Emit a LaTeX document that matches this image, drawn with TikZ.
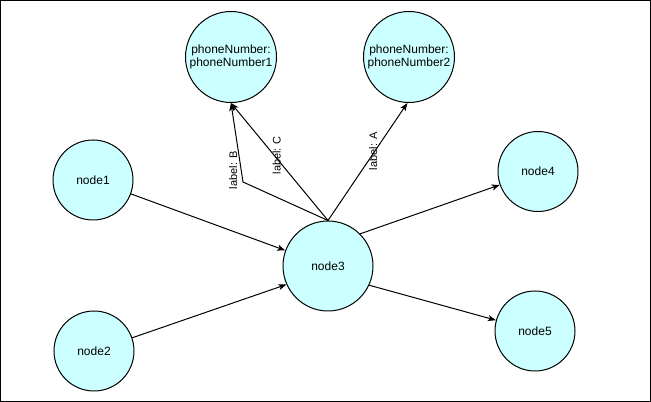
\documentclass[tikz,border=0pt]{standalone}
\usepackage{fontspec}
\setmainfont{Liberation Sans}
\usetikzlibrary{arrows.meta}
\definecolor{nodefill}{HTML}{CCFFFF}
\begin{document}
\begin{tikzpicture}[x=0.75pt,y=-0.75pt,
  circ/.style={circle,draw=black,fill=nodefill,line width=0.75pt,inner sep=0pt,
    align=center,font=\fontsize{9}{10}\selectfont},
  small/.style={circ,minimum size=60pt},
  big/.style={circ,minimum size=67.5pt},
  arr/.style={-{Stealth[length=6pt,width=4.5pt,inset=1.5pt]},line width=0.75pt},
  lbl/.style={inner sep=0pt,font=\fontsize{8.25}{10}\selectfont}]
\useasboundingbox (0,0) rectangle (651,402);
\draw[line width=0.75pt] (0.5,0.5) rectangle (650.5,401.5);
\node[small] (n1) at (93,180) {node1};
\node[small] (n2) at (94,351) {node2};
\node[big] (n3) at (328,266) {node3};
\node[small] (n4) at (538,171.5) {node4};
\node[small] (n5) at (535,331) {node5};
\node[circ,minimum size=68.25pt] (p1) at (231,57) {phoneNumber:\\phoneNumber1};
\node[circ,minimum size=68.25pt] (p2) at (409,57) {phoneNumber:\\phoneNumber2};
\coordinate (wB) at (243,182);
\draw[arr] (n1) -- (n3.160);
\draw[arr] (n2) -- (n3.204);
\draw[arr] (n3.45) -- (n4);
\draw[arr] (n3.-25) -- (n5);
\draw[arr] (n3.north) -- node[lbl,pos=0.59,xshift=-1.2pt,rotate=90] {label: A} (p2.268);
\draw[arr] (n3.north) -- node[lbl,pos=0.555,xshift=1.9pt,rotate=90] {label: C} (p1.south);
\draw[arr] (n3.north) -- (wB) -- node[lbl,pos=0.15,xshift=-6pt,rotate=90] {label: B} (p1.south);
\end{tikzpicture}
\end{document}
